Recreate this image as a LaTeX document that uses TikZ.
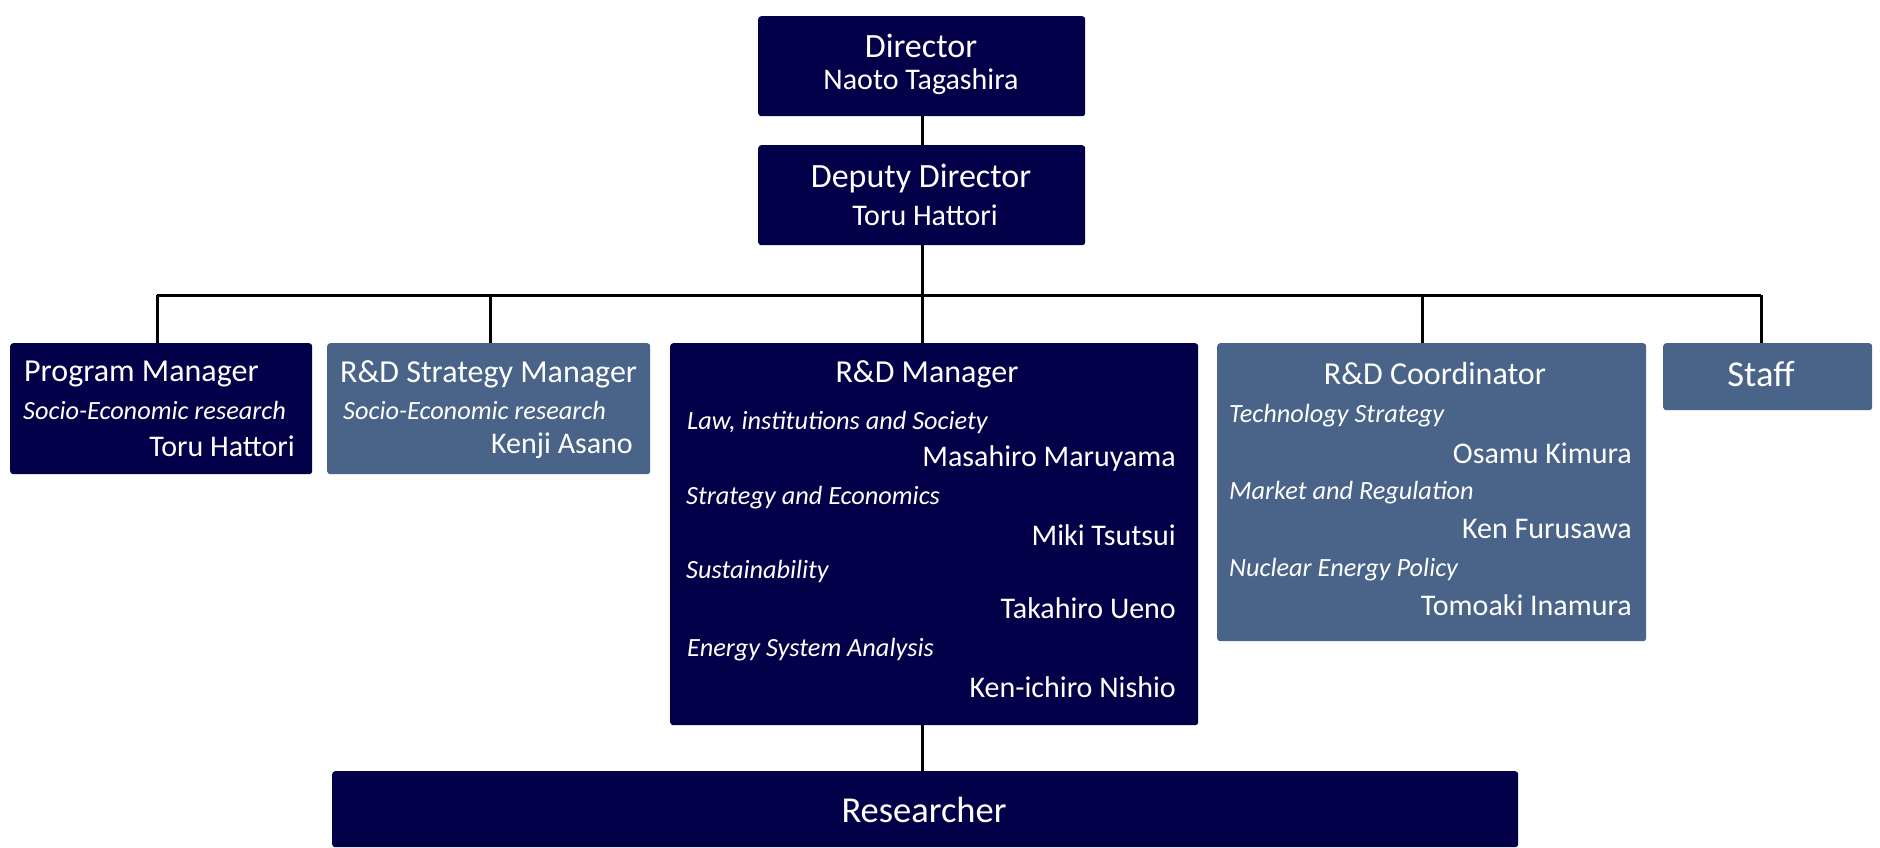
\documentclass[tikz,border=0pt]{standalone}
\usepackage{fontspec}
\setmainfont{Carlito}
\definecolor{navy}{RGB}{2,0,72}
\definecolor{steel}{RGB}{73,99,137}
\tikzset{
  boxbase/.style={rounded corners=3pt, inner sep=0pt, anchor=north west},
  darkbox/.style={boxbase, fill=navy},
  lightbox/.style={boxbase, fill=steel},
  ttl/.style={text=white, inner sep=0pt, font=\fontsize{32}{36}\selectfont},
  bigttl/.style={text=white, inner sep=0pt, font=\fontsize{34}{38}\selectfont},
  nm/.style={text=white, inner sep=0pt, anchor=east, font=\fontsize{30}{32}\selectfont},
  nmc/.style={text=white, inner sep=0pt, font=\fontsize{30}{32}\selectfont},
  it/.style={text=white, inner sep=0pt, anchor=west, font=\fontsize{26.3}{28}\selectfont\itshape},
  conn/.style={line width=3pt, draw=black}
}
\begin{document}
\begin{tikzpicture}[x=1pt,y=-1pt]
\useasboundingbox (0,0) rectangle (1880,848);
% boxes
\node[darkbox, minimum width=327, minimum height=100] (dir) at (758,16) {};
\node[darkbox, minimum width=327, minimum height=100] (dep) at (758,145) {};
\node[darkbox, minimum width=302, minimum height=131] (pm) at (10,343) {};
\node[lightbox, minimum width=323, minimum height=131] (sm) at (327,343) {};
\node[darkbox, minimum width=528, minimum height=382] (rm) at (670,343) {};
\node[lightbox, minimum width=429, minimum height=298] (rc) at (1217,343) {};
\node[lightbox, minimum width=209, minimum height=67] (st) at (1663,343) {};
\node[darkbox, minimum width=1186, minimum height=76] (re) at (332,771) {};
% texts
\node[bigttl] (t1) at (921,46) {Director};
\node[nmc] (t2) at (921,82) {Naoto Tagashira};
\node[bigttl] (t3) at (921,179) {Deputy Director};
\node[nmc] (t4) at (925,215) {Toru Hattori};
\node[ttl, anchor=west] (t5) at (24,374) {Program Manager};
\node[it] (t6) at (23,410) {Socio-Economic research};
\node[nm] (t7) at (295,446) {Toru Hattori};
\node[ttl, anchor=west] (t8) at (340,374) {R\&D Strategy Manager};
\node[it] (t9) at (343,410) {Socio-Economic research};
\node[nm] (t10) at (633,446) {Kenji Asano};
\node[ttl] (t11) at (927,374) {R\&D Manager};
\node[it] (t12) at (687,422) {Law, institutions and Society};
\node[nm] (t13) at (1176,458) {Masahiro Maruyama};
\node[it] (t14) at (686,498) {Strategy and Economics};
\node[nm] (t15) at (1176,535) {Miki Tsutsui};
\node[it] (t16) at (686,571) {Sustainability};
\node[nm] (t17) at (1176,608) {Takahiro Ueno};
\node[it] (t18) at (687,650) {Energy System Analysis};
\node[nm] (t19) at (1176,687) {Ken-ichiro Nishio};
\node[ttl] (t20) at (1435,374) {R\&D Coordinator};
\node[it] (t21) at (1229,416) {Technology Strategy};
\node[nm] (t22) at (1632,453) {Osamu Kimura};
\node[it] (t23) at (1229,493) {Market and Regulation};
\node[nm] (t24) at (1632,529) {Ken Furusawa};
\node[it] (t25) at (1229,570) {Nuclear Energy Policy};
\node[nm] (t26) at (1632,605) {Tomoaki Inamura};
\node[ttl, font=\fontsize{36.5}{40}\selectfont] (t27) at (1761,374) {Staff};
\node[ttl, font=\fontsize{36.5}{40}\selectfont] (t28) at (924,810) {Researcher};
% connectors
\coordinate (j0) at (922,295);
\coordinate (j1) at (157,295);
\coordinate (j2) at (490,295);
\coordinate (j4) at (1422,295);
\coordinate (j5) at (1761,295);
\draw[conn] (dir.south -| j0) -- (dep.north -| j0);
\draw[conn] (dep.south -| j0) -- (j0);
\draw[conn] (j1) -- (j5);
\draw[conn] (j1) -- (j1 |- pm.north);
\draw[conn] (j2) -- (j2 |- sm.north);
\draw[conn] (j0) -- (j0 |- rm.north);
\draw[conn] (j4) -- (j4 |- rc.north);
\draw[conn] (j5) -- (j5 |- st.north);
\draw[conn] (rm.south -| j0) -- (re.north -| j0);
\end{tikzpicture}
\end{document}
